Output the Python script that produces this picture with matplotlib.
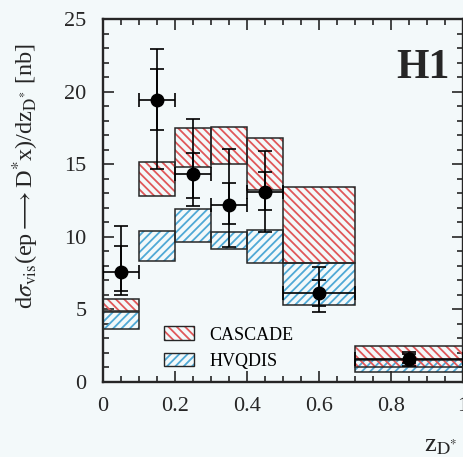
import numpy as np
import matplotlib as mpl
mpl.use('Agg')
import matplotlib.pyplot as plt
from matplotlib.patches import Patch
from matplotlib.ticker import MultipleLocator

plt.rcParams['font.family'] = ['Liberation Serif', 'DejaVu Serif']
plt.rcParams['mathtext.fontset'] = 'stix'
plt.rcParams['hatch.linewidth'] = 1.3

# bin edges in z(D*)
edges = [0.0, 0.1, 0.2, 0.3, 0.4, 0.5, 0.7, 1.0]

# measured cross section [nb]
z_centres = [0.05, 0.15, 0.25, 0.35, 0.45, 0.6, 0.85]
xsec = [7.6, 19.4, 14.3, 12.2, 13.1, 6.1, 1.6]
stat_up = [1.8, 2.15, 1.5, 1.5, 1.35, 0.9, 0.3]
stat_dn = [1.3, 2.05, 1.65, 1.3, 1.25, 0.9, 0.3]
tot_up = [3.15, 3.5, 3.8, 3.85, 2.8, 1.8, 0.5]
tot_dn = [1.6, 4.7, 2.2, 2.9, 2.8, 1.3, 0.5]

# model bands
cascade_lo = [4.9, 12.8, 14.8, 15.0, 13.2, 8.2, 1.0]
cascade_hi = [5.75, 15.15, 17.5, 17.55, 16.8, 13.4, 2.5]
hvqdis_lo = [3.65, 8.3, 9.65, 9.15, 8.2, 5.3, 0.7]
hvqdis_hi = [4.85, 10.4, 11.9, 10.35, 10.45, 8.2, 1.5]

red = '#e0585a'
blue = '#4fa9d6'
dark = '#262626'
bg = '#f3f9fa'

fig = plt.figure(figsize=(4.64, 4.57), dpi=100, facecolor=bg)
ax = fig.add_axes([103/464, 75/457, 360/464, 363/457], facecolor=bg)

left = np.array(edges[:-1])
width = np.diff(edges)

def band(lo, hi, colour, hatch):
    lo = np.array(lo)
    hi = np.array(hi)
    ax.bar(left, hi - lo, width, bottom=lo, align='edge', fill=False,
           edgecolor=colour, hatch=hatch, linewidth=0, zorder=2)
    ax.bar(left, hi - lo, width, bottom=lo, align='edge', fill=False,
           edgecolor=dark, linewidth=1.1, zorder=3)

band(hvqdis_lo, hvqdis_hi, blue, '////')
band(cascade_lo, cascade_hi, red, '\\\\\\\\')

xerr = width / 2
ax.errorbar(z_centres, xsec, yerr=[tot_dn, tot_up], xerr=xerr, fmt='o',
            color='black', ms=9, elinewidth=1.2, capsize=5, capthick=1.2,
            zorder=5)
ax.errorbar(z_centres, xsec, yerr=[stat_dn, stat_up], fmt='none',
            ecolor='black', elinewidth=1.2, capsize=5, capthick=1.2, zorder=5)

ax.set_xlim(0, 1)
ax.set_ylim(0, 25)
ax.xaxis.set_minor_locator(MultipleLocator(0.05))
ax.yaxis.set_major_locator(MultipleLocator(5))
ax.yaxis.set_minor_locator(MultipleLocator(1))
ax.set_xticks([0, 0.2, 0.4, 0.6, 0.8, 1.0])
ax.set_xticklabels(['0', '0.2', '0.4', '0.6', '0.8', '1'])
ax.tick_params(which='both', direction='in', top=True, right=True,
               labelsize=16, width=1.2, colors=dark)
ax.tick_params(which='major', length=8)
ax.tick_params(which='minor', length=4)
ax.tick_params(axis='x', pad=11)
ax.tick_params(axis='y', pad=12)
for s in ax.spines.values():
    s.set_linewidth(1.7)
    s.set_color(dark)

fig.text(0.055, 0.615,
         r'd$\sigma_{\mathrm{vis}}$(ep$\longrightarrow$D$^{*}$x)/dz$_{\mathrm{D}^{*}}$ [nb]',
         rotation=90, ha='center', va='center', fontsize=17.5, color=dark)
fig.text(0.95, 0.024, r'z$_{\mathrm{D}^{*}}$', ha='center', va='center',
         fontsize=19, color=dark)
ax.text(0.89, 21.6, 'H1', ha='center', va='center', fontsize=30,
        fontweight='bold', color=dark)

h_cas = (Patch(facecolor='none', edgecolor=red, hatch='\\\\\\\\', linewidth=0),
         Patch(facecolor='none', edgecolor=dark, linewidth=1.0))
h_hvq = (Patch(facecolor='none', edgecolor=blue, hatch='////', linewidth=0),
         Patch(facecolor='none', edgecolor=dark, linewidth=1.0))
ax.legend([h_cas, h_hvq], ['CASCADE', 'HVQDIS'], loc='upper left',
          bbox_to_anchor=(0.125, 0.198), frameon=False, fontsize=13,
          handlelength=1.65, handleheight=0.8, handletextpad=0.85,
          labelspacing=0.5)

fig.savefig('out.png', dpi=100, facecolor=bg)
